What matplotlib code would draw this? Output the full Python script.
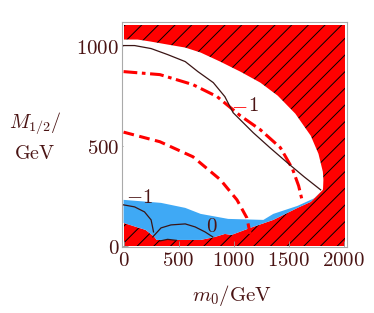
import matplotlib
matplotlib.use("Agg")
import matplotlib.pyplot as plt
from matplotlib.patches import Rectangle

plt.rcParams["mathtext.fontset"] = "cm"
plt.rcParams["hatch.linewidth"] = 0.7

TXT = "#4a1414"
LINE = "#3a1414"
RED = "#ff0000"
BLUE = "#3fa9f5"

# outer boundary of the allowed (non-excluded) region, upper side
upper_m0 = [0, 128, 245, 400, 560, 700, 877, 1060, 1242, 1400, 1560, 1700, 1770, 1810, 1815, 1812]
upper_M = [1030, 1030, 1020, 1005, 990, 965, 920, 870, 815, 750, 660, 550, 460, 370, 330, 290]
# lower excluded boundary (from right to left)
lower_m0 = [1810, 1700, 1580, 1360, 1150, 980, 920, 830, 700, 300, 280, 200, 0]
lower_M = [280, 220, 190, 130, 90, 55, 60, 45, 30, 30, 45, 80, 115]
# top edge of the blue band
blue_m0 = [0, 340, 560, 700, 950, 1270, 1360, 1580, 1740, 1810]
blue_M = [230, 215, 190, 160, 135, 130, 160, 200, 240, 280]

# contour "1" (solid)
c1_m0 = [0, 100, 250, 400, 560, 675, 815, 920, 995, 1178, 1330, 1488, 1640, 1790]
c1_M = [1000, 1000, 985, 955, 920, 870, 815, 745, 665, 565, 490, 415, 345, 280]
# contour "-1" (lower left)
cm1_m0 = [0, 100, 190, 250, 265, 272]
cm1_M = [205, 195, 170, 130, 90, 70]
# contour "0"
c0_m0 = [265, 340, 430, 560, 650, 740, 810]
c0_M = [45, 90, 105, 110, 95, 70, 45]
arc_m0 = [330, 400, 480]
arc_M = [25, 33, 28]
# red dashed
dash_m0 = [0, 330, 630, 880, 1030, 1120, 1150]
dash_M = [568, 520, 445, 330, 230, 140, 60]
# red dash-dot
dd_m0 = [0, 330, 630, 850, 1060, 1242, 1425, 1534, 1590, 1625]
dd_M = [870, 855, 805, 745, 650, 580, 490, 385, 300, 220]

xticks = [0, 500, 1000, 1500, 2000]
yticks = [0, 500, 1000]

fig = plt.figure(figsize=(3.74, 3.13), dpi=100)
ax = fig.add_axes([0.326, 0.211, 0.602, 0.719])

ax.add_patch(Rectangle((0, 0), 2010, 1105, facecolor=RED, edgecolor="black",
                       linewidth=0, hatch="//", zorder=1))
ax.fill(upper_m0 + lower_m0, upper_M + lower_M, color="white", lw=0, zorder=2)
ax.fill(blue_m0 + lower_m0, blue_M + lower_M, color=BLUE, lw=0, zorder=3)

ax.plot(dash_m0, dash_M, color=RED, lw=2.2, dashes=(3.5, 1.8), zorder=4)
ax.plot(dd_m0, dd_M, color=RED, lw=2.2, dashes=(4.5, 1.5, 1.2, 1.5), zorder=4)
for xs, ys in [(c1_m0, c1_M), (cm1_m0, cm1_M), (c0_m0, c0_M), (arc_m0, arc_M)]:
    ax.plot(xs, ys, color=LINE, lw=0.9, zorder=5)

# contour labels
ax.text(1050, 702, r"$-$", color=RED, fontsize=15, ha="center", va="center", zorder=6)
ax.text(1178, 705, r"$1$", color=TXT, fontsize=15, ha="center", va="center", zorder=6)
ax.text(140, 245, r"$-1$", color=TXT, fontsize=15, ha="center", va="center", zorder=6)
ax.text(803, 102, r"$0$", color=TXT, fontsize=15, ha="center", va="center", zorder=6)

ax.set_xlim(-15, 2030)
ax.set_ylim(-5, 1118)
ax.set_xticks(xticks)
ax.set_xticklabels([f"${v}$" for v in xticks])
ax.set_yticks(yticks)
ax.set_yticklabels([f"${v}$" for v in yticks])
ax.tick_params(direction="in", length=4, width=0.6, color="#999999",
               labelsize=15, labelcolor=TXT, pad=2)
for s in ax.spines.values():
    s.set_color("#aaaaaa")
    s.set_linewidth(0.8)

fig.text(0.166, 0.607, r"$M_{1/2}/$", color=TXT, fontsize=14.5, ha="right", va="center")
fig.text(0.147, 0.511, r"$\mathrm{GeV}$", color=TXT, fontsize=14.5, ha="right", va="center")
fig.text(0.62, 0.055, r"$m_0/\mathrm{GeV}$", color=TXT, fontsize=15, ha="center", va="center")

fig.savefig("out.png", dpi=100)
